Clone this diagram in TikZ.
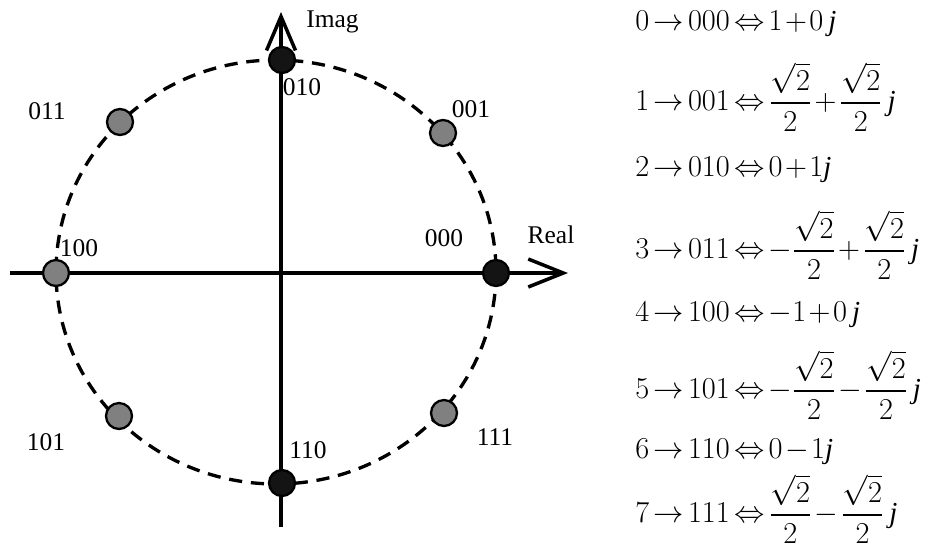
\documentclass[tikz,border=0pt]{standalone}
\usepackage{amsmath}
\usepackage{fontspec}
\setmainfont{Liberation Serif}
\usetikzlibrary{arrows.meta}
\definecolor{symgray}{gray}{0.50}
\definecolor{symblack}{gray}{0.08}
\newcommand{\jj}{\textit{j}}
\newcommand{\eqfont}{\fontsize{16.5}{19}\selectfont\medmuskip=1.5mu\thickmuskip=2.5mu}

\begin{document}
\begin{tikzpicture}[x=0.02cm, y=-0.02cm,
		every node/.style={font=\fontsize{14.5}{17}\selectfont},
		axisline/.style={line width=2pt},
		ringline/.style={line width=1.9pt, dash pattern=on 7.5pt off 5pt},
		symdot/.style={circle, draw=black, line width=1.3pt, minimum size=0.52cm, inner sep=0pt},
		blackdot/.style={symdot, fill=symblack},
		graydot/.style={symdot, fill=symgray},
		lbl/.style={inner sep=0pt},
		eqline/.style={inner sep=0pt, anchor=west, font=\eqfont}]
		\useasboundingbox (0,0) rectangle (935,548);

		% --- axes ---
		\coordinate (O) at (281,273);
		\coordinate (xl) at (10,273);
		\coordinate (xr) at (568,273);
		\coordinate (yb) at (281,527);
		\coordinate (yt) at (281,12);
		\draw[axisline, -{Straight Barb[length=0.7cm, width=0.56cm]}] (xl) -- (xr);
		\draw[axisline, -{Straight Barb[length=0.68cm, width=0.58cm]}] (yb) -- (yt);

		% --- dashed ring ---
		\draw[ringline] (276,272) ellipse [x radius=220, y radius=212];

		% --- constellation points ---
		\node[blackdot] (s000) at (496,273) {};
		\node[graydot]  (s001) at (443,133) {};
		\node[blackdot] (s010) at (282,60)  {};
		\node[graydot]  (s011) at (120,122) {};
		\node[graydot]  (s100) at (56,273)  {};
		\node[graydot]  (s101) at (119,416) {};
		\node[blackdot] (s110) at (282,483) {};
		\node[graydot]  (s111) at (444,413) {};

		% --- point labels ---
		\node[lbl] (l000) at (444,238) {000};
		\node[lbl] (l001) at (471,109) {001};
		\node[lbl] (l010) at (302,87)  {010};
		\node[lbl] (l011) at (47,111)  {011};
		\node[lbl] (l100) at (79,248)  {100};
		\node[lbl] (l101) at (46,442)  {101};
		\node[lbl] (l110) at (308,450) {110};
		\node[lbl] (l111) at (495,437) {111};

		% --- axis names ---
		\node[lbl, anchor=base west] (imag) at (306,27) {Imag};
		\node[lbl] (real) at (551,235) {Real};

		% --- mapping table ---
		\node[eqline] (eq0) at (635,24)  {$0\rightarrow 000\Leftrightarrow 1+0\,\jj$};
		\node[eqline] (eq1) at (635,97)  {$1\rightarrow 001\Leftrightarrow \dfrac{\sqrt{2}}{2}+\dfrac{\sqrt{2}}{2}\,\jj$};
		\node[eqline] (eq2) at (635,170) {$2\rightarrow 010\Leftrightarrow 0+1\jj$};
		\node[eqline] (eq3) at (635,245) {$3\rightarrow 011\Leftrightarrow -\dfrac{\sqrt{2}}{2}+\dfrac{\sqrt{2}}{2}\,\jj$};
		\node[eqline] (eq4) at (635,315) {$4\rightarrow 100\Leftrightarrow -1+0\,\jj$};
		\node[eqline] (eq5) at (635,385) {$5\rightarrow 101\Leftrightarrow -\dfrac{\sqrt{2}}{2}-\dfrac{\sqrt{2}}{2}\,\jj$};
		\node[eqline] (eq6) at (635,452) {$6\rightarrow 110\Leftrightarrow 0-1\jj$};
		\node[eqline] (eq7) at (635,509) {$7\rightarrow 111\Leftrightarrow \dfrac{\sqrt{2}}{2}-\dfrac{\sqrt{2}}{2}\,\jj$};
	\end{tikzpicture}
\end{document}
